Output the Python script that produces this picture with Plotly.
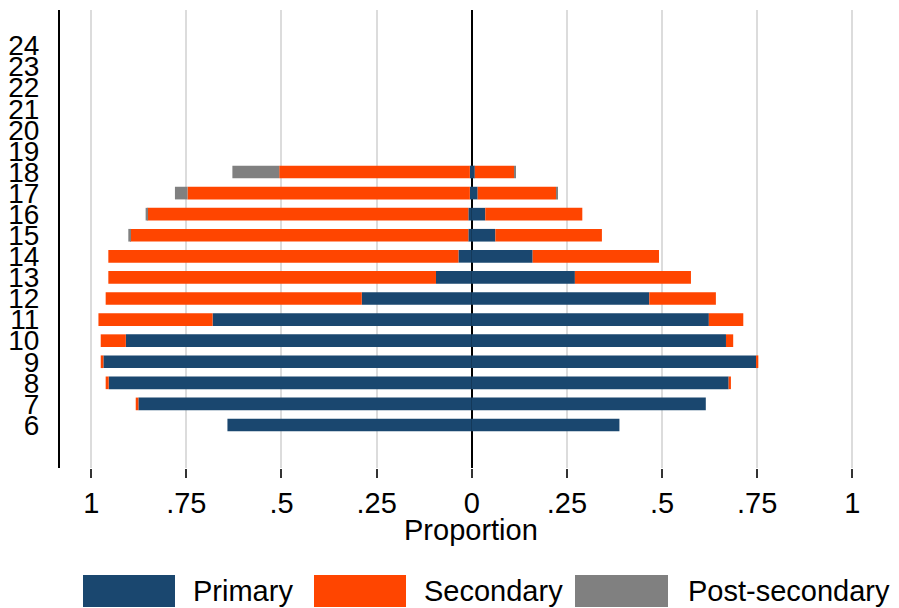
import plotly.graph_objects as go

# Age groups and share of children by level of schooling attended
ages = list(range(6, 25))
age_labels = [str(a) for a in ages]

# left-hand panel (drawn to the left of zero)
left_primary = [0.642, 0.876, 0.954, 0.968, 0.909, 0.681, 0.289, 0.094, 0.035, 0.009, 0.009, 0.005, 0.005,
                0, 0, 0, 0, 0, 0]
left_secondary = [0.0, 0.007, 0.008, 0.007, 0.066, 0.300, 0.673, 0.861, 0.920, 0.889, 0.8435, 0.742, 0.501,
                  0, 0, 0, 0, 0, 0]
left_post = [0, 0, 0, 0, 0, 0, 0, 0, 0, 0.0045, 0.0045, 0.033, 0.123,
             0, 0, 0, 0, 0, 0]

# right-hand panel (drawn to the right of zero)
right_primary = [0.388, 0.615, 0.675, 0.747, 0.668, 0.623, 0.4665, 0.271, 0.160, 0.062, 0.0355, 0.0155, 0.008,
                 0, 0, 0, 0, 0, 0]
right_secondary = [0.0, 0.0, 0.006, 0.006, 0.019, 0.0905, 0.175, 0.305, 0.332, 0.280, 0.255, 0.206, 0.103,
                   0, 0, 0, 0, 0, 0]
right_post = [0, 0, 0, 0, 0, 0, 0, 0, 0, 0, 0, 0.004, 0.003,
              0, 0, 0, 0, 0, 0]

x_tickvals = [-1, -0.75, -0.5, -0.25, 0, 0.25, 0.5, 0.75, 1]
x_ticktext = ["1", ".75", ".5", ".25", "0", ".25", ".5", ".75", "1"]
x_title = "Proportion"

series_names = ["Primary", "Secondary", "Post-secondary"]
colors = ["#1a476f", "#ff4500", "#808080"]

FONT = "Liberation Sans, Arial, sans-serif"

fig = go.Figure()

left_series = [left_primary, left_secondary, left_post]
right_series = [right_primary, right_secondary, right_post]

for name, color, vals in zip(series_names, colors, left_series):
    fig.add_trace(go.Bar(
        y=ages, x=[-v for v in vals], orientation="h", name=name,
        marker=dict(color=color, line=dict(width=0)), width=0.6,
        showlegend=False, hoverinfo="skip",
    ))
for name, color, vals in zip(series_names, colors, right_series):
    fig.add_trace(go.Bar(
        y=ages, x=vals, orientation="h", name=name,
        marker=dict(color=color, line=dict(width=0)), width=0.6,
        showlegend=False, hoverinfo="skip",
    ))

# plot-area geometry in pixels (used for the hand-built legend and title)
W, H = 899, 608
L, R, T, B = 60, 17, 10, 140
pw, ph = W - L - R, H - T - B


def px_to_paper(px, py):
    return (px - L) / pw, (H - B - py) / ph


# x-axis title, sitting just under the tick labels
tx, ty = px_to_paper(L + pw / 2, 530)
fig.add_annotation(xref="paper", yref="paper", x=tx, y=ty, text=x_title,
                   showarrow=False, xanchor="center", yanchor="middle",
                   font=dict(family=FONT, size=29, color="#000000"))

# legend: large swatches in one row under the axis title
legend_boxes = [(83, 175, 191), (314, 406, 422), (575, 668, 686)]
for (x0, x1, lx), name, color in zip(legend_boxes, series_names, colors):
    px0, py0 = px_to_paper(x0, 607)
    px1, py1 = px_to_paper(x1, 575)
    fig.add_shape(type="rect", xref="paper", yref="paper",
                  x0=px0, x1=px1, y0=py0, y1=py1,
                  fillcolor=color, line=dict(width=0))
    ax, ay = px_to_paper(lx, 591)
    fig.add_annotation(xref="paper", yref="paper", x=ax, y=ay,
                       text=name, showarrow=False, xanchor="left", yanchor="middle",
                       font=dict(family=FONT, size=29, color="#000000"))

fig.update_layout(
    width=W, height=H,
    margin=dict(l=L, r=R, t=T, b=B, pad=0, autoexpand=False),
    barmode="relative",
    plot_bgcolor="white", paper_bgcolor="white",
    font=dict(family=FONT, size=29, color="#000000"),
)

fig.update_xaxes(
    range=[-1.082, 1.078],
    tickvals=x_tickvals, ticktext=x_ticktext,
    showgrid=True, gridcolor="#dcdcdc", gridwidth=1.5,
    zeroline=True, zerolinecolor="#000000", zerolinewidth=2,
    showline=False,
    ticks="outside", ticklen=9, tickwidth=1.5, tickcolor="#333333",
    tickfont=dict(family=FONT, size=29, color="#000000"),
    automargin=False,
    fixedrange=True,
)

fig.update_yaxes(
    range=[3.96, 25.684],
    tickvals=ages, ticktext=age_labels,
    showgrid=False, zeroline=False,
    showline=True, linecolor="#000000", linewidth=2,
    ticks="", ticklabelstandoff=13,
    tickfont=dict(family=FONT, size=28, color="#000000"),
    automargin=False,
    fixedrange=True,
)

fig.write_html("out.html")
